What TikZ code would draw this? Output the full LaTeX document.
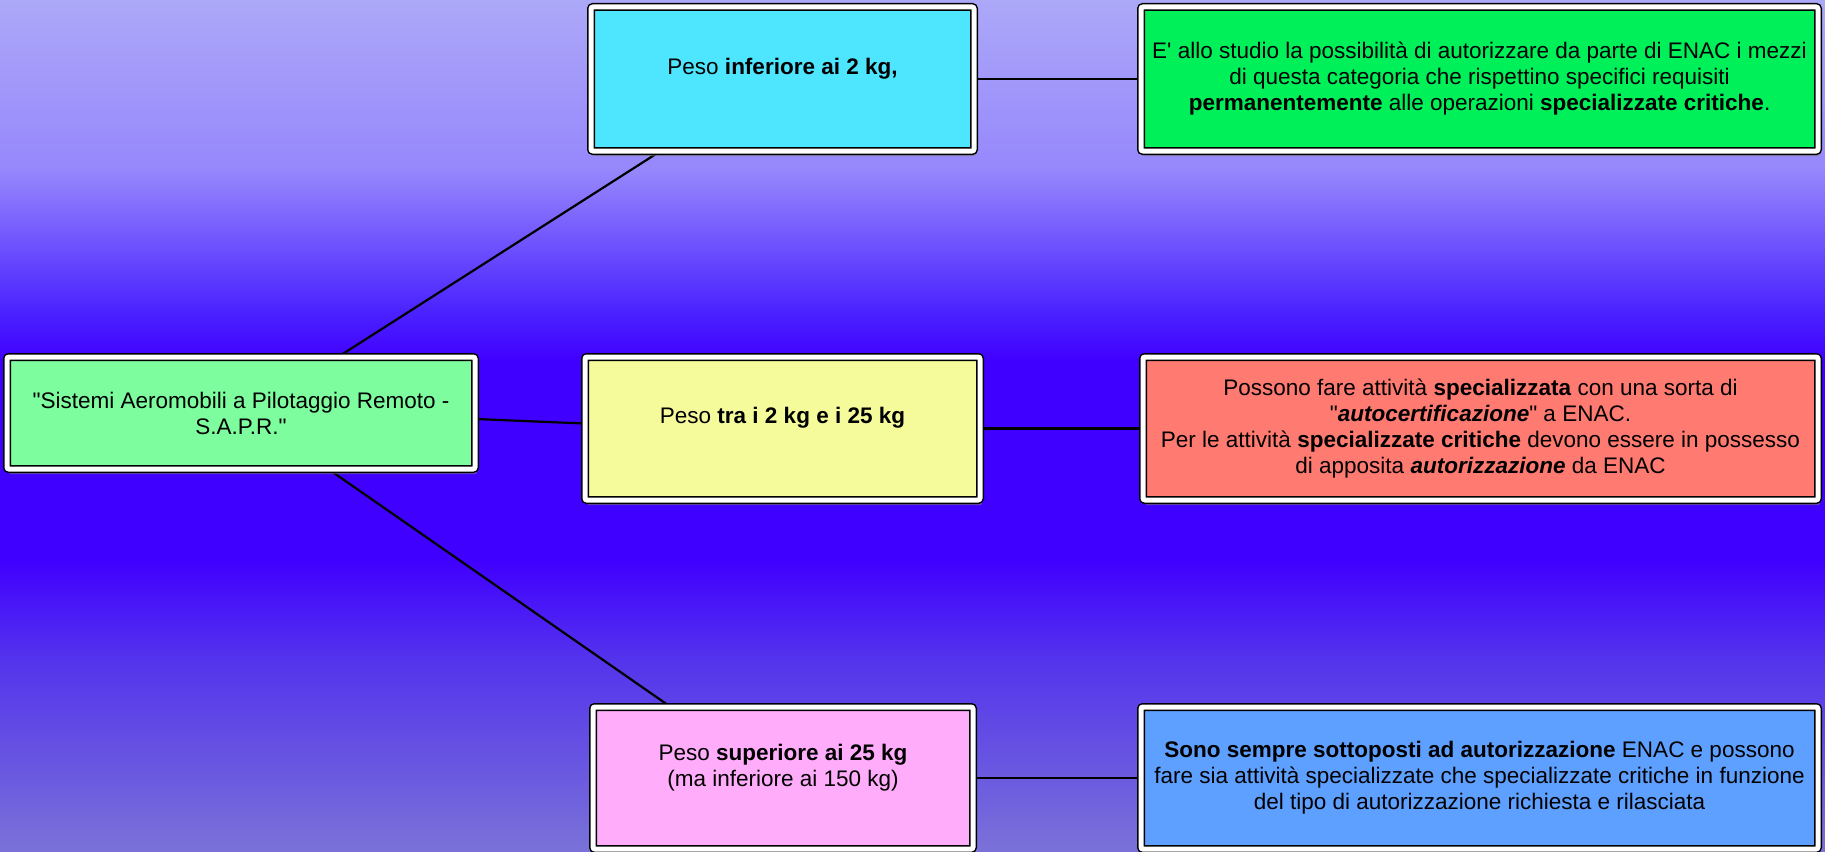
\documentclass[tikz,border=0pt]{standalone}
\usepackage{fontspec}
\setmainfont{Liberation Sans}
\usepackage{xcolor}
\usetikzlibrary{calc}
\usetikzlibrary{math}
\usetikzlibrary{backgrounds}
\usetikzlibrary{shadows}

\definecolor{bgtop}{RGB}{172,168,248}
\definecolor{bga}{RGB}{150,135,252}
\definecolor{bgb}{RGB}{75,35,255}
\definecolor{bgmid}{RGB}{64,0,255}
\definecolor{bgc}{RGB}{84,52,236}
\definecolor{bgbot}{RGB}{122,114,216}

\definecolor{rootgreen}{RGB}{125,253,157}
\definecolor{lightcyan}{RGB}{78,230,255}
\definecolor{paleyellow}{RGB}{245,251,155}
\definecolor{lightpink}{RGB}{255,172,250}
\definecolor{brightgreen}{RGB}{0,240,90}
\definecolor{salmon}{RGB}{255,122,112}
\definecolor{skyblue}{RGB}{94,160,255}

\newcommand\boxfont{\fontsize{22.5}{26}\selectfont}

\tikzset{
  saprbox/.style={draw=black, line width=1.5pt, double=white, double distance=5pt,
    rounded corners=2pt, inner sep=0pt, align=center, font=\boxfont,
    drop shadow={shadow xshift=2pt, shadow yshift=-5pt, opacity=0.6}},
  link/.style={draw=black, line width=2.2pt},
  band/.style={draw=none, shading=axis},
}

\begin{document}
\begin{tikzpicture}[x=1pt,y=-1pt]

  \tikzmath{
    \weightw = 383; % width of the weight boxes
    \rulew   = 677; % width of the boxes on the right
    \boxh    = 143; % height of the boxes
  }

  \useasboundingbox (0,0) rectangle (1825,851);

  % background
  \begin{scope}[on background layer]
    \shade[band, top color=bgtop, bottom color=bga] (0,0) rectangle (1825,171);
    \shade[band, top color=bga, bottom color=bgb] (0,170) rectangle (1825,311);
    \shade[band, top color=bgb, bottom color=bgmid] (0,310) rectangle (1825,361);
    \fill[bgmid] (0,360) rectangle (1825,561);
    \shade[band, top color=bgmid, bottom color=bgc] (0,560) rectangle (1825,661);
    \shade[band, top color=bgc, bottom color=bgbot] (0,660) rectangle (1825,851);
  \end{scope}

  % root
  \node[saprbox, fill=rootgreen, minimum width=468, minimum height=112] (root) at (241,413)
  {\textquotedbl Sistemi Aeromobili a Pilotaggio Remoto -\\S.A.P.R.\textquotedbl};

  % weight classes
  \node[saprbox, fill=lightcyan, minimum width=\weightw, minimum height=\boxh+1] (light) at (782.5,79)
  {Peso \textbf{inferiore ai 2 kg,}\\\mbox{}};
  \node[saprbox, fill=paleyellow, minimum width=\weightw+12, minimum height=\boxh] (medium) at (782.5,428.5)
  {Peso \textbf{tra i 2 kg e i 25 kg}\\\mbox{}};
  \node[saprbox, fill=lightpink, minimum width=\weightw-3, minimum height=\boxh-1] (heavy) at (783,778)
  {Peso \textbf{superiore ai 25 kg}\\(ma inferiore ai 150 kg)\\\mbox{}};

  % rules for each class
  \node[saprbox, fill=brightgreen, minimum width=\rulew, minimum height=\boxh+1] (lightrule) at (1479.5,79)
  {E\textquotesingle{} allo studio la possibilità di autorizzare da parte di ENAC i mezzi\\
   di questa categoria che rispettino specifici requisiti\\
   \textbf{permanentemente} alle operazioni \textbf{specializzate critiche}.};
  \node[saprbox, fill=salmon, minimum width=\rulew-2, minimum height=\boxh] (mediumrule) at (1480.5,428.5)
  {Possono fare attività \textbf{specializzata} con una sorta di\\
   \textquotedbl\textbf{\textit{autocertificazione}}\textquotedbl{} a ENAC.\\
   Per le attività \textbf{specializzate critiche} devono essere in possesso\\
   di apposita \textbf{\textit{autorizzazione}} da ENAC};
  \node[saprbox, fill=skyblue, minimum width=\rulew, minimum height=\boxh-1] (heavyrule) at (1479.5,778)
  {\textbf{Sono sempre sottoposti ad autorizzazione} ENAC e possono\\
   fare sia attività specializzate che specializzate critiche in funzione\\
   del tipo di autorizzazione richiesta e rilasciata};

  % connectors
  \begin{scope}[on background layer]
    \draw[link] ($(root.north west)!0.709!(root.north east)$) -- ($(light.south west)!0.18!(light.south east)$);
    \draw[link] ($(root.east)+(0,6)$) -- ($(medium.west)+(0,-5)$);
    \draw[link] ($(root.south west)!0.688!(root.south east)$) -- ($(heavy.north west)!0.203!(heavy.north east)$);
    \draw[link] (light.east) -- (lightrule.west);
    \draw[link] (medium.east) -- (mediumrule.west);
    \draw[link] (heavy.east) -- (heavyrule.west);
  \end{scope}

\end{tikzpicture}
\end{document}
